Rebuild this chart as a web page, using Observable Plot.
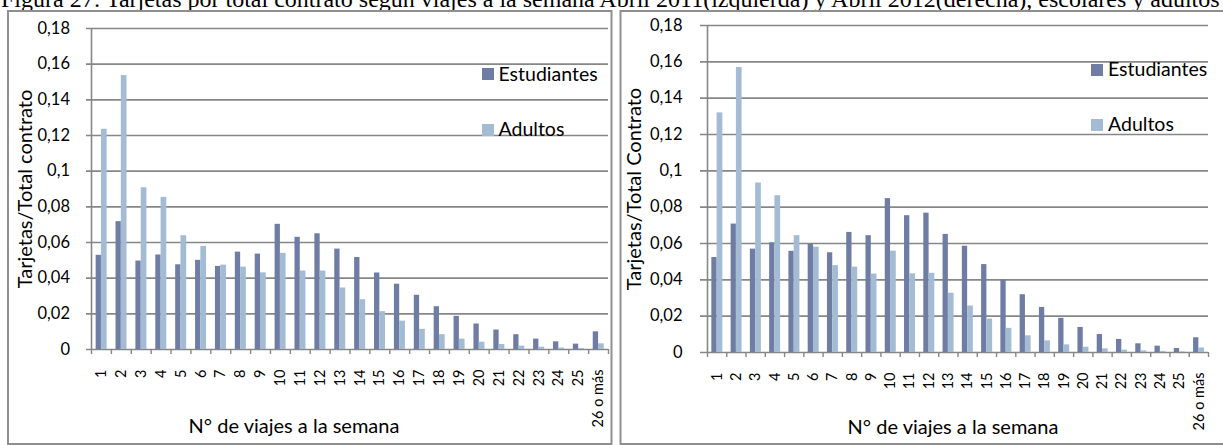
<!DOCTYPE html>
<html>
<head>
<meta charset="utf-8">
<script src="https://cdn.jsdelivr.net/npm/d3@7"></script>
<script src="https://cdn.jsdelivr.net/npm/@observablehq/plot@0.6"></script>
<style>
  html, body { margin: 0; padding: 0; background: #fff; }
  #wrap { position: relative; width: 1223px; height: 445px; overflow: hidden; background: #fff; }
  #wrap > svg, #wrap > div { position: absolute; }
  #overlay { left: 0; top: 0; pointer-events: none; z-index: 2; }
</style>
</head>
<body>
<div id="wrap"></div>
<script>
// ---- data ----
const categories = ["1","2","3","4","5","6","7","8","9","10","11","12","13","14","15","16","17","18","19","20","21","22","23","24","25","26 o más"];
const estudiantes2011 = [0.0528,0.0717,0.0496,0.0530,0.0475,0.0500,0.0466,0.0546,0.0535,0.0702,0.0629,0.0649,0.0563,0.0516,0.0429,0.0366,0.0304,0.0240,0.0186,0.0143,0.0109,0.0083,0.0058,0.0043,0.0030,0.0099];
const adultos2011     = [0.1235,0.1536,0.0907,0.0853,0.0638,0.0578,0.0473,0.0462,0.0430,0.0539,0.0440,0.0440,0.0345,0.0279,0.0212,0.0159,0.0113,0.0083,0.0058,0.0041,0.0028,0.0019,0.0013,0.0008,0.0006,0.0032];
const estudiantes2012 = [0.0523,0.0707,0.0569,0.0604,0.0557,0.0596,0.0549,0.0661,0.0643,0.0847,0.0753,0.0767,0.0650,0.0585,0.0484,0.0399,0.0318,0.0248,0.0188,0.0138,0.0099,0.0072,0.0048,0.0035,0.0022,0.0081];
const adultos2012     = [0.1319,0.1569,0.0933,0.0863,0.0643,0.0580,0.0478,0.0470,0.0432,0.0558,0.0433,0.0436,0.0326,0.0256,0.0184,0.0133,0.0092,0.0064,0.0042,0.0029,0.0020,0.0013,0.0009,0.0006,0.0003,0.0025];
const yTicks = [0,0.02,0.04,0.06,0.08,0.10,0.12,0.14,0.16,0.18];
const seriesNames = ["Estudiantes","Adultos"];
const titleText = "Figura 27: Tarjetas por total contrato según viajes a la semana Abril 2011(izquierda) y Abril 2012(derecha), escolares y adultos";
const yTitles = ["Tarjetas/Total contrato","Tarjetas/Total Contrato"];
const xTitle = "N° de viajes a la semana";

// ---- styles ----
const colEst = "#6f7ca4";
const colAdu = "#a3bcd4";
const gridCol = "#878787";
const FONT = "Lato, 'Open Sans', sans-serif";

const fmt = v => v === 0 ? "0" : String(+v.toFixed(2)).replace(".", ",");

function panel(est, adu, cfg) {
  const data = categories.map((c, i) => ({cat: c, est: est[i], adu: adu[i]}));
  const bw = (cfg.width - cfg.ml - cfg.mr) / categories.length;
  const tickLen = 5 / ((cfg.height - cfg.mt - cfg.mb) / 0.18);
  const svg = Plot.plot({
    width: cfg.width, height: cfg.height,
    marginLeft: cfg.ml, marginRight: cfg.mr, marginTop: cfg.mt, marginBottom: cfg.mb,
    x: {type: "band", domain: categories, padding: 0, round: false, axis: null},
    y: {domain: [0, 0.18], axis: null},
    style: {background: "transparent", fontFamily: FONT, color: "#000", overflow: "visible"},
    marks: [
      Plot.ruleY(yTicks, {stroke: gridCol, strokeWidth: 1.6, insetLeft: -cfg.tick}),
      Plot.ruleX([categories[0]], {dx: -bw / 2, stroke: gridCol, strokeWidth: 1.6}),
      Plot.ruleX(categories, {x: d => d, dx: -bw / 2, y1: () => 0, y2: () => -tickLen, stroke: gridCol, strokeWidth: 1.4}),
      Plot.ruleX([categories[categories.length - 1]], {x: d => d, dx: bw / 2, y1: () => 0, y2: () => -tickLen, stroke: gridCol, strokeWidth: 1.4}),
      Plot.barY(data, {x: "cat", y: "est", fill: colEst, insetLeft: bw / 2 - 5.3, insetRight: bw / 2}),
      Plot.barY(data, {x: "cat", y: "adu", fill: colAdu, insetLeft: bw / 2, insetRight: bw / 2 - 5.7}),
      Plot.axisY({ticks: yTicks, tickSize: 0, tickPadding: cfg.ypad, tickFormat: fmt, fontSize: 16.5, label: null}),
      Plot.text(categories, {x: d => d, frameAnchor: "bottom", rotate: -90, textAnchor: "end", lineAnchor: "middle", dy: cfg.xpad, fontSize: 14.5, fill: "#000"})
    ]
  });
  svg.style.left = cfg.left + "px";
  svg.style.top = "0px";
  return svg;
}

const wrap = document.getElementById("wrap");
wrap.appendChild(panel(estudiantes2011, adultos2011, {left: 0, width: 612, height: 445, ml: 91, mr: 4, mt: 28, mb: 96, tick: 5, ypad: 21.5, xpad: 20}));
wrap.appendChild(panel(estudiantes2012, adultos2012, {left: 612, width: 611, height: 445, ml: 95, mr: 15, mt: 25, mb: 93, tick: 7, ypad: 25, xpad: 20}));

// ---- overlay: title, frames, axis titles, legends ----
const NS = "http://www.w3.org/2000/svg";
const ov = document.createElementNS(NS, "svg");
ov.setAttribute("id", "overlay");
ov.setAttribute("width", 1223);
ov.setAttribute("height", 445);
function el(name, attrs, text) {
  const e = document.createElementNS(NS, name);
  for (const k in attrs) e.setAttribute(k, attrs[k]);
  if (text != null) e.textContent = text;
  ov.appendChild(e);
  return e;
}
el("text", {x: 1, y: 7, "font-family": "'Liberation Serif', 'Times New Roman', serif", "font-size": 24, fill: "#000"}, titleText);
el("rect", {x: 8, y: 11, width: 603.5, height: 433, fill: "none", stroke: "#8f8f8f", "stroke-width": 2});
el("rect", {x: 620.5, y: 11, width: 640, height: 433, fill: "none", stroke: "#8f8f8f", "stroke-width": 2});

const panelsText = [
  {yx: 32, ytitle: yTitles[0], xtx: 294, xty: 433, sw: 482, tx: 498.5, ly: [68, 124], by: [80.5, 135.7]},
  {yx: 641, ytitle: yTitles[1], xtx: 953, xty: 434, sw: 1091, tx: 1108, ly: [64, 119], by: [76, 130.7]}
];
for (const p of panelsText) {
  el("text", {transform: `translate(${p.yx},189) rotate(-90)`, "text-anchor": "middle", "font-family": FONT, "font-size": 20, fill: "#000"}, p.ytitle);
  el("text", {x: p.xtx, y: p.xty, "text-anchor": "middle", "font-family": FONT, "font-size": 20, fill: "#000"}, xTitle);
  seriesNames.forEach((s, i) => {
    el("rect", {x: p.sw, y: p.ly[i], width: 12, height: 12, fill: i === 0 ? colEst : colAdu});
    el("text", {x: p.tx, y: p.by[i], "font-family": FONT, "font-size": 19.5, fill: "#000"}, s);
  });
}
wrap.appendChild(ov);
</script>
</body>
</html>
